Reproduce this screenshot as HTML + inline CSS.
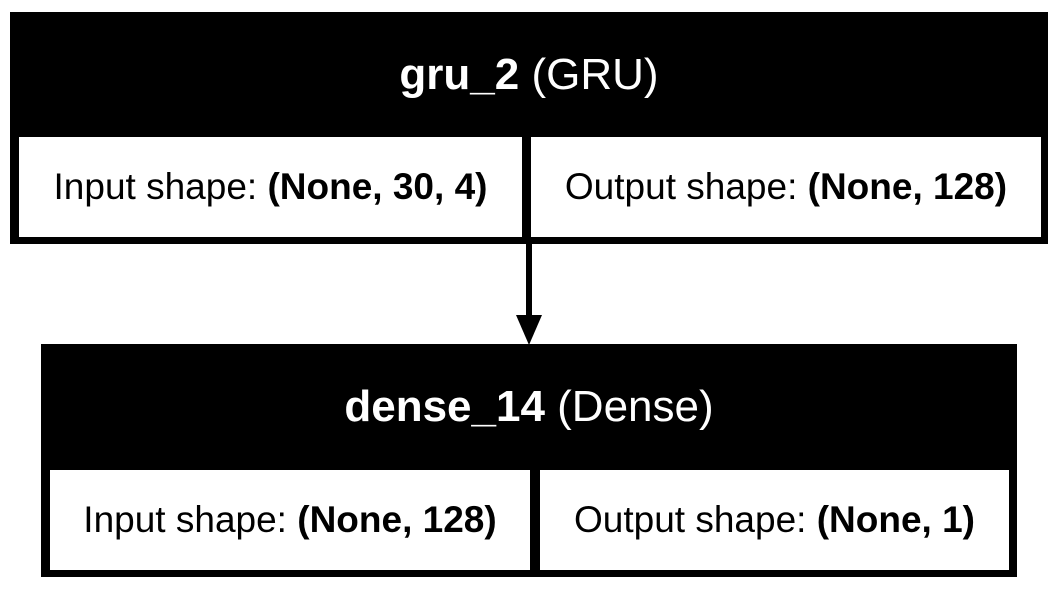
<!DOCTYPE html>
<html><head><meta charset="utf-8"><style>
body{margin:0;width:1058px;height:589px;background:#fff;position:relative;overflow:hidden;font-family:"Liberation Sans",Arial,sans-serif}
.a{position:absolute;box-sizing:border-box}
.blk{background:#000}
.cell{background:#fff;display:flex;align-items:center;justify-content:center;font-size:37px;color:#000;white-space:nowrap}
.hdr{color:#fff;font-size:44px;display:flex;align-items:center;justify-content:center;white-space:nowrap}
</style></head><body>
<div class="a blk" style="left:10px;top:12px;width:1038px;height:232px">
  <div class="a hdr" style="left:0;top:0;width:1038px;height:125px"><b>gru_2</b>&nbsp;(GRU)</div>
  <div class="a cell" style="left:9px;top:125px;width:503px;height:100px">Input shape:&nbsp;<b>(None, 30, 4)</b></div>
  <div class="a cell" style="left:521px;top:125px;width:510px;height:100px">Output shape:&nbsp;<b>(None, 128)</b></div>
</div>
<svg class="a" style="left:0;top:0" width="1058" height="589">
  <line x1="529" y1="244" x2="529" y2="320" stroke="#000" stroke-width="6"/>
  <polygon points="516,315 542,315 529,345" fill="#000"/>
</svg>
<div class="a blk" style="left:41px;top:344px;width:976px;height:233px">
  <div class="a hdr" style="left:0;top:0;width:976px;height:126px"><b>dense_14</b>&nbsp;(Dense)</div>
  <div class="a cell" style="left:9px;top:126px;width:480px;height:100px">Input shape:&nbsp;<b>(None, 128)</b></div>
  <div class="a cell" style="left:499px;top:126px;width:469px;height:100px">Output shape:&nbsp;<b>(None, 1)</b></div>
</div>
</body></html>
